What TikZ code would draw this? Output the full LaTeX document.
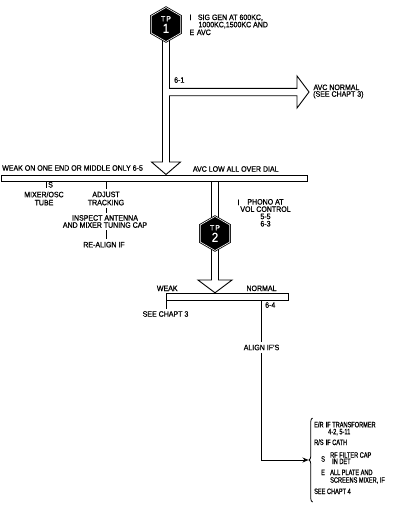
\documentclass[tikz,border=0pt]{standalone}
\usepackage{fontspec}
\setmainfont{Liberation Sans}[FakeStretch=0.9,FakeBold=0.9]
\newfontfamily\narrowfont{Liberation Sans}[FakeStretch=0.72,FakeBold=0.9]
\usetikzlibrary{shapes.geometric,decorations.pathreplacing,arrows.meta,calc}
\tikzset{
  txt/.style={font=\fontsize{7.8}{7.8}\selectfont, inner sep=0pt, align=center},
  btxt/.style={txt, anchor=base west},
  ntxt/.style={font=\narrowfont\fontsize{7.8}{7.8}\selectfont, inner sep=0pt, anchor=base west},
  conn/.style={outer sep=2.5pt},
  lnk/.style={line width=0.9pt},
  shaft/.style={line width=0.9pt, line join=miter, fill=white},
  barbox/.style={draw, line width=0.9pt, fill=white, inner sep=0pt, anchor=north west},
  hexa/.style={regular polygon, regular polygon sides=6, shape border rotate=30,
    minimum size=34pt, inner sep=0pt, fill=black, draw=black, double=white,
    double distance=0.6pt, line width=0.8pt, text=white, align=center},
  tpfont/.style={},
}
\newcommand{\tplabel}[1]{{\fontsize{7.5}{7.5}\selectfont T\kern1.2pt P}\\[-0.5pt]{\fontsize{13}{13}\selectfont #1}}
\begin{document}
\begin{tikzpicture}[x=1pt,y=-1pt]
\useasboundingbox (0,0) rectangle (401,514);
\coordinate (c1) at (166,24.5);
\coordinate (c2) at (215,233.5);
% wide shaft from TP1 with branch to AVC NORMAL
\draw[shaft] ($(c1)+(-3.5,0)$) -- (162.5,162) -- (151.5,162) -- (166,174.5)
  -- (180.5,162) -- (169.5,162) -- (169.5,95.7) -- (297,95.7) -- (297,108)
  -- (309,92) -- (297,76) -- (297,88.3) -- (169.5,88.3) -- ($(c1)+(3.5,0)$);
% wide shaft through TP2
\draw[shaft] (211.5,179) -- (211.5,280) -- (198,280) -- (215,292.8)
  -- (232,280) -- (218.5,280) -- (218.5,179);
% bars
\node[barbox, minimum width=306pt, minimum height=5.7pt] (bar1) at (0.5,175) {};
\node[barbox, minimum width=122pt, minimum height=6.7pt] (bar2) at (166,293.3) {};
% test points
\node[hexa] (tp1) at (c1) {\tplabel{1}};
\node[hexa] (tp2) at (c2) {\tplabel{2}};
% TP1 text
\node[btxt] (i1) at (189.3,20) {I};
\node[btxt] (sig) at (197.7,20) {SIG GEN AT 600KC,};
\node[btxt] (kc) at (198.3,27.3) {1000KC,1500KC AND};
\node[btxt] (e1) at (189.3,35) {E};
\node[btxt] (avc) at (196.7,35) {AVC};
\node[btxt] (l61) at (174,82.7) {6-1};
\node[btxt] (avcn) at (313.3,90) {AVC NORMAL};
\node[btxt] (seec3a) at (313,96.7) {(SEE CHAPT 3)};
% bar 1 labels
\node[btxt] (weak1) at (2,170.7) {WEAK ON ONE END OR MIDDLE ONLY 6-5};
\node[btxt] (avclow) at (192.7,171.7) {AVC LOW ALL OVER DIAL};
% left branches
\node[btxt] (s1) at (48,187.5) {S};
\node[txt] (mix) at (44,198.5) {MIXER/OSC\\[0.3pt]TUBE};
\node[txt, conn] (adj) at (106,198.5) {ADJUST\\[0.3pt]TRACKING};
\node[txt, conn] (insp) at (105,221.5) {INSPECT ANTENNA\\[-0.7pt]AND MIXER TUNING CAP};
\node[txt, conn] (realign) at (104,244.7) {RE-ALIGN IF};
\draw[lnk] ($(s1.south west |- bar1.south)+(-2,0)$) -- ($(s1.south west)+(-2,0.5)$);
\draw[lnk] (bar1.south -| adj.north) -- (adj.north);
\draw[lnk] (adj.south) -- (adj.south |- insp.north);
\draw[lnk] (insp.south -| adj.south) -- (adj.south |- realign.north);
% TP2 text
\node[btxt] (i2) at (237.3,205) {I};
\node[txt] (phono) at (265.5,212.8) {PHONO AT\\[-0.5pt]VOL CONTROL\\[-0.5pt]5-5\\[-0.5pt]6-3};
% bar 2 labels
\node[btxt] (weak2) at (156.7,291) {WEAK};
\node[txt, anchor=base east] (normal) at (276.7,291) {NORMAL};
\node[txt, anchor=base, conn] (seec3b) at (165.5,316.7) {SEE CHAPT 3};
\draw[lnk] (bar2.south west) -- (seec3b.north -| bar2.south west);
\node[btxt] (l64) at (265,307.7) {6-4};
\node[txt, conn] (alg) at (261.5,347.5) {ALIGN IF'S};
\draw[lnk] (bar2.south -| alg.north) -- (alg.north);
\coordinate (btip) at (308.5,460);
\draw[lnk, -{Stealth[length=6pt,width=5pt]}] (alg.south) |- (btip);
% brace and list
\draw[decorate, decoration={brace, amplitude=3.5pt}, line width=0.8pt] (312.5,502) -- (312.5,418);
\node[ntxt] (er) at (314,427.3) {E/R};
\node[ntxt] (ift) at (325.5,427.3) {IF TRANSFORMER};
\node[ntxt] (n42) at (328,434.3) {4-2, 5-11};
\node[ntxt] (rs) at (314,445) {R/S};
\node[ntxt] (ifc) at (325.5,445) {IF CATH};
\node[ntxt] (s2) at (321,461.7) {S};
\node[ntxt] (rff) at (330,457.7) {RF FILTER CAP};
\node[ntxt] (indet) at (332,464) {IN DET};
\node[ntxt] (e2) at (321,475) {E};
\node[ntxt] (allp) at (330,475) {ALL PLATE AND};
\node[ntxt] (scr) at (330,482.7) {SCREENS MIXER, IF};
\node[ntxt] (seec4) at (314,494) {SEE CHAPT 4};
\end{tikzpicture}
\end{document}
